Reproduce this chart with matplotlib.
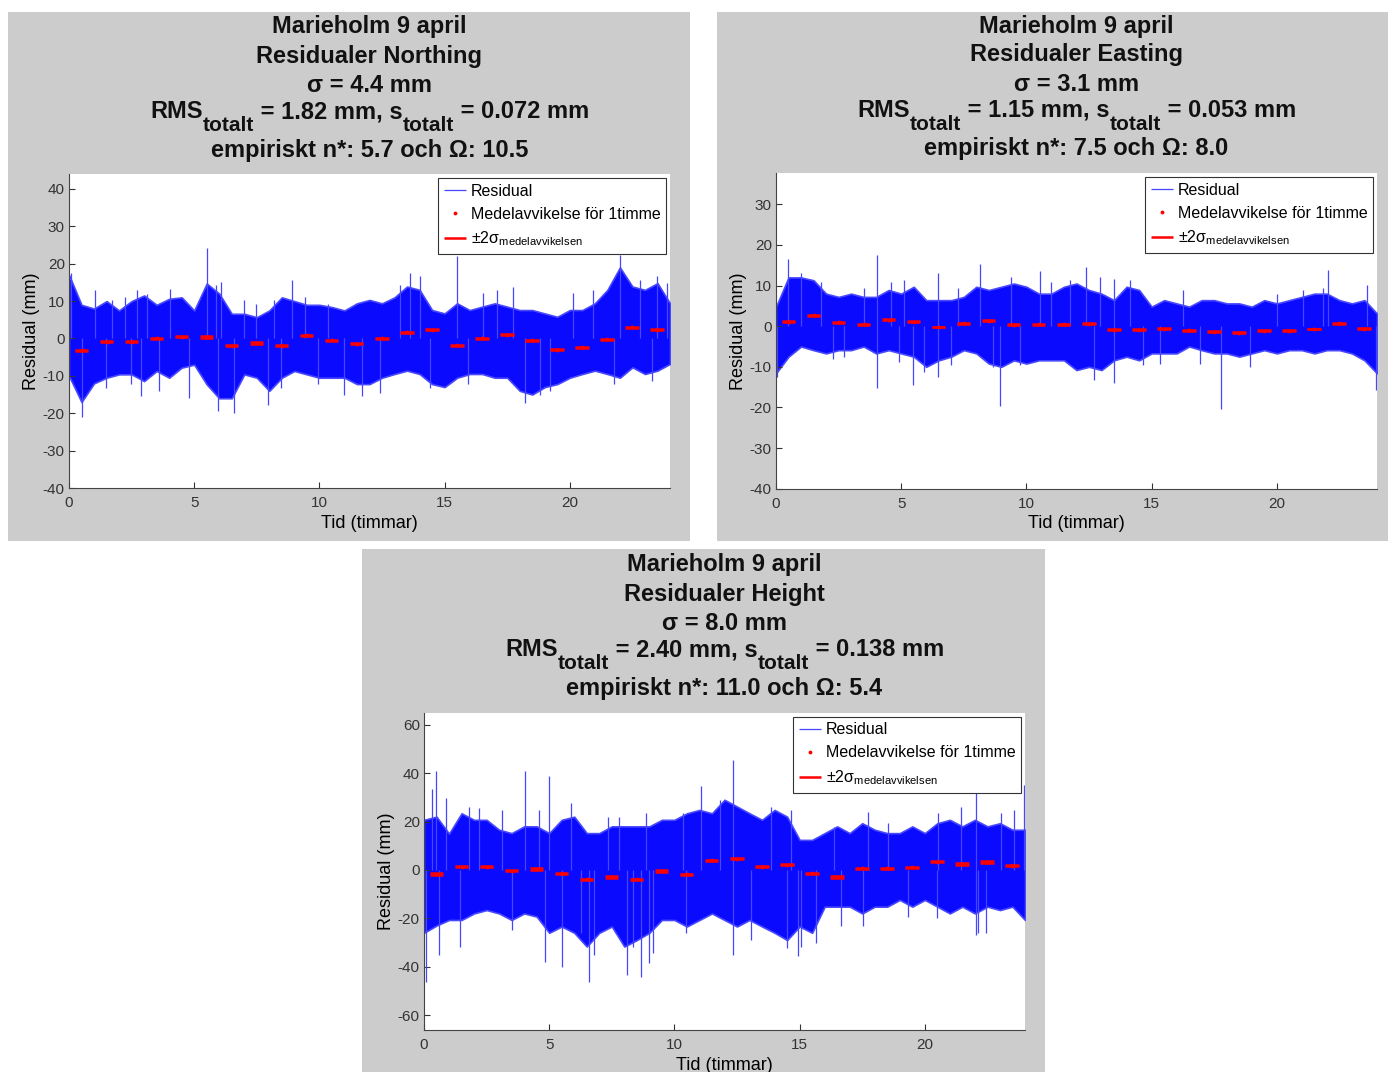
import numpy as np
import matplotlib
matplotlib.use('Agg')
import matplotlib.pyplot as plt
from matplotlib.patches import Rectangle

plt.rcParams['font.family'] = ['Liberation Sans', 'DejaVu Sans']
plt.rcParams['axes.unicode_minus'] = False
plt.rcParams['mathtext.fontset'] = 'custom'
plt.rcParams['mathtext.rm'] = 'Liberation Sans'
plt.rcParams['mathtext.it'] = 'Liberation Sans:italic'
plt.rcParams['mathtext.bf'] = 'Liberation Sans:bold'

# envelope of the residual trace, read every half hour (0, 0.5, ..., 24)
env_t = [i / 2 for i in range(49)]

north_hi = [17, 9, 8, 10, 7.5, 10, 11.5, 9, 10.6, 11, 7.5, 14.7, 12, 6.6, 6.6, 5.7, 7.5,
            11, 10, 9, 9, 8.4, 7.5, 9.4, 10.3, 9.4, 11, 13.9, 13, 7.6, 6.7, 9.4, 7.6, 8.5,
            9.4, 8.5, 7.6, 7.6, 6.7, 5.8, 7.6, 7.6, 9.4, 13, 19, 13.9, 13, 14.8, 9.4]
north_lo = [-10, -17, -12, -10.5, -9.6, -9.6, -11.4, -8.7, -10.5, -7.8, -7, -12.3, -16, -16,
            -9.6, -10.5, -14, -10.5, -8.7, -9.6, -10.5, -10.5, -10.5, -12.2, -12.2, -10.5,
            -9.5, -8.6, -9.5, -12.2, -13, -10.5, -9.5, -9.5, -10.5, -10.5, -14, -15, -13,
            -12.2, -10.5, -9.5, -8.6, -9.5, -10.5, -7.7, -9.5, -8.6, -6.8]
north_spike_t = [0.07, 0.53, 1.03, 1.47, 1.73, 2.23, 2.47, 2.73, 2.87, 3.13, 3.6, 4.04,
                 4.8, 5.5, 5.87, 5.96, 6.07, 6.57, 7.0, 7.47, 7.93, 8.2, 8.47, 8.9, 9.44,
                 9.93, 10.33, 11.0, 11.69, 12.4, 13.22, 13.6, 14.03, 14.42, 15.48, 15.95,
                 16.55, 17.08, 17.74, 18.2, 18.8, 19.2, 20.14, 20.94, 21.76, 22.0, 22.8,
                 23.27, 23.47, 23.87]
north_spike_v = [17.4, -20.9, 12.9, -13.2, 10.2, 11.1, -12.3, 12.9, -15.5, 12, -14.1, 13.3,
                 -16, 24.1, 14.2, -19.5, 15.1, -20, 10.2, 9.3, -17.7, 10.2, -13.2, 15.6,
                 11.1, -12.3, 9.3, -15, -15.4, -14.5, 14.3, 17.5, 16.6, -13.2, 22, -12.3,
                 12.1, 13, 13.9, -17.2, -15, -14.1, 12.1, 13, -12.3, 22.4, 15.7, -11.4,
                 16.6, 14.8]
north_mean = [-3.2, -0.9, -0.9, 0.1, 0.5, 0.4, -2.0, -1.2, -1.9, 0.9, -0.5, -1.4,
              0.1, 1.6, 2.3, -1.8, 0.0, 1.0, -0.5, -3.0, -2.4, -0.2, 3.0, 2.4]

east_hi = [4.8, 12, 12, 11.3, 8, 7.2, 8, 7.2, 7.2, 8.9, 8, 9.7, 6.4, 6.4, 6.4, 7.2, 9.7,
           8.9, 9.7, 10.5, 9.7, 8, 8, 9.7, 10.5, 8.9, 8, 6.4, 9.7, 8.9, 4.8, 6.4, 5.6, 4.8,
           6.4, 6.4, 5.6, 5.6, 4.8, 6.4, 5.6, 6.4, 7.2, 8, 8, 6.4, 5.6, 6.4, 3.1]
east_lo = [-11.6, -7.5, -5, -5.9, -6.7, -5.9, -5.9, -5, -6.7, -5.9, -6.7, -7.5, -10, -8.4,
           -7.5, -5.9, -6.7, -9.2, -10, -8.4, -9.2, -8.4, -8.4, -8.4, -10.8, -10, -10.8,
           -8.4, -7.5, -8.4, -6.7, -6.7, -6.7, -5, -5.9, -6.7, -6.7, -7.5, -6.7, -5.9,
           -6.7, -5.9, -5.9, -6.7, -5.9, -5.9, -6.7, -8.4, -11.6]
east_spike_t = [0.05, 0.47, 1.0, 1.8, 2.27, 2.73, 3.53, 4.04, 4.04, 4.6, 4.93, 5.13, 5.47,
                5.9, 6.47, 6.47, 7.0, 7.27, 8.13, 8.67, 8.93, 9.4, 9.73, 10.53, 11.0, 11.74,
                12.37, 12.68, 12.94, 13.49, 13.5, 14.14, 14.67, 15.34, 16.27, 16.93, 17.77,
                18.93, 19.99, 21.06, 21.86, 22.06, 23.59, 23.96]
east_spike_v = [-12.5, 16.6, 13, 10.9, -8, -7.5, 9.3, 17.6, -15.3, 10.9, -8.8, 11.3, -14.5,
                -11.2, 13.1, -12.5, -9.6, 9.3, 15.2, -10, -19.6, 12.1, -9.6, 13.5, 10.9,
                11.3, 14.6, -13.3, 12.1, -14.1, 11.7, 11.3, -9.6, -9.2, 8.9, -9.2, -20.5,
                -10, 8, 8.9, 9.3, 13.8, 10.1, -15.7]
east_mean = [1.1, 2.7, 1.0, 0.5, 1.6, 1.1, -0.2, 0.7, 1.3, 0.4, 0.5, 0.5,
             0.6, -0.9, -0.9, -0.6, -1.0, -1.4, -1.6, -1.1, -1.1, -0.7, 0.7, -0.6]

height_hi = [20.7, 22, 15, 23.4, 20.7, 20.7, 16.6, 15.2, 18, 18, 15.2, 20.7, 22, 15.2, 15.2,
             18, 18, 18, 18, 20.7, 20.7, 23.4, 24.8, 23.4, 29, 26.2, 23.4, 20.7, 24.8, 22,
             12.4, 12.4, 15.2, 18, 15.2, 19.3, 16.6, 15.2, 15.2, 18, 15.2, 19.3, 20.7, 18,
             20.7, 18, 19.3, 16.6, 16.6]
height_lo = [-26, -23, -20.7, -20.7, -18, -16.6, -18, -20.7, -18, -19.3, -26, -23.4, -26,
             -31.7, -26, -23.4, -31.7, -29, -26, -20.7, -20.7, -23.4, -20.7, -18, -20.7,
             -23.4, -20.7, -23.4, -26, -29, -23.4, -26, -15.2, -15.2, -15.2, -18, -15.2,
             -15.2, -12.4, -15.2, -12.4, -15.2, -18, -15.2, -18, -15.2, -16.6, -15.2, -20.7]
height_spike_t = [0.07, 0.33, 0.49, 0.6, 0.87, 1.44, 1.8, 2.2, 3.13, 3.53, 4.04, 4.6, 4.83,
                  5.0, 5.51, 5.87, 6.27, 6.6, 6.8, 7.33, 7.8, 8.09, 8.33, 8.67, 8.87, 8.97,
                  9.13, 10.33, 10.47, 11.07, 11.84, 12.35, 12.35, 13.04, 13.84, 14.48, 14.64,
                  14.95, 15.04, 15.64, 16.37, 16.64, 17.55, 17.74, 18.51, 19.31, 20.5, 20.51,
                  21.44, 22.04, 22.04, 22.11, 22.44, 23.04, 23.57, 23.95]
height_spike_v = [-46.2, 33.4, 40.7, -35.2, 29.7, -31.7, 26.2, 25.5, 24.8, -24.8, 41.1, 24.8,
                  -37.9, 38.9, -40, 27.6, -26.2, -46.2, -35.2, 22, 22, -43.4, -31.7, -44.1,
                  23.4, -38.6, -34.5, 23.4, -26.2, 34.5, 29, 45.5, -35.2, -29, 26.2, -32.4,
                  24.8, -35.6, -31.7, -30.3, 17.9, -23.4, -23.4, 24.1, 19.3, -19.3, -20,
                  23.4, 26.2, 31.7, -26.9, -26.2, -26.2, 23.4, 24.8, 35.2]
height_mean = [-1.7, 1.4, 1.4, -0.3, 0.4, -1.4, -3.9, -2.9, -3.9, -0.4, -1.9, 4.0,
               4.7, 1.4, 2.2, -1.4, -3.0, 0.6, 0.6, 1.1, 3.4, 2.5, 3.3, 1.7]

panels = [
    dict(name='Northing', sigma='4.4', rms='1.82', s='0.072', n='5.7', omega='10.5',
         hi=north_hi, lo=north_lo, st=north_spike_t, sv=north_spike_v, mean=north_mean,
         ylim=(-40, 44), yticks=range(-40, 41, 10),
         box=(8, 12, 690, 541), ax=(69, 174, 670, 488), title_y=(27, 56, 85, 118, 150)),
    dict(name='Easting', sigma='3.1', rms='1.15', s='0.053', n='7.5', omega='8.0',
         hi=east_hi, lo=east_lo, st=east_spike_t, sv=east_spike_v, mean=east_mean,
         ylim=(-40, 37.7), yticks=range(-40, 31, 10),
         box=(717, 12, 1388, 541), ax=(776, 173, 1377, 488.7), title_y=(26, 55, 84, 117, 149)),
    dict(name='Height', sigma='8.0', rms='2.40', s='0.138', n='11.0', omega='5.4',
         hi=height_hi, lo=height_lo, st=height_spike_t, sv=height_spike_v, mean=height_mean,
         ylim=(-66.2, 65), yticks=range(-60, 61, 20),
         box=(362, 549, 1045, 1072), ax=(424, 712.7, 1025, 1030), title_y=(565, 594, 623, 656, 688)),
]

W, H = 1389, 1072
fig = plt.figure(figsize=(W / 100, H / 100), dpi=100)
fig.patch.set_facecolor('white')
renderer = fig.canvas.get_renderer()


def fx(x):
    return x / W


def fy(y):
    return 1 - y / H


def rms_line(cx, base_y, parts):
    # parts: (text, is_subscript); placed one after another around cx
    arts = []
    for txt, sub in parts:
        t = fig.text(0, 0, txt, fontsize=15 if sub else 17, fontweight='bold',
                     color='#111111', ha='left', va='baseline')
        arts.append((t, sub))
    widths = [t.get_window_extent(renderer).width for t, _ in arts]
    x = cx - sum(widths) / 2
    for (t, sub), w in zip(arts, widths):
        t.set_position((fx(x), fy(base_y + (13 if sub else 0))))
        x += w


hours = np.arange(24)
for p in panels:
    x0, y0, x1, y1 = p['box']
    fig.patches.append(Rectangle((fx(x0), fy(y1)), fx(x1 - x0), (y1 - y0) / H,
                                 transform=fig.transFigure, facecolor='#cccccc',
                                 edgecolor='none', zorder=-5))
    a0, b0, a1, b1 = p['ax']
    ax = fig.add_axes([fx(a0), fy(b1), fx(a1 - a0), (b1 - b0) / H])

    ax.fill_between(env_t, p['lo'], p['hi'], color='#0a0aff', lw=1.2, edgecolor='#4848ff')
    ax.vlines(p['st'], 0, p['sv'], color='#4646ff', lw=0.9, label='Residual')

    mean = np.array(p['mean'])
    two_s = 2 * float(p['s'])
    ax.plot(hours + 0.5, mean, '.', color='red', ms=3.5, zorder=4,
            label='Medelavvikelse för 1timme')
    ax.hlines(mean + two_s, hours + 0.22, hours + 0.76, color='red', lw=1.8, zorder=3,
              label='±2σ$_{\\mathrm{medelavvikelsen}}$')
    ax.hlines(mean - two_s, hours + 0.22, hours + 0.76, color='red', lw=1.8, zorder=3)

    ax.set_xlim(0, 24)
    ax.set_ylim(*p['ylim'])
    ax.set_xticks([0, 5, 10, 15, 20])
    ax.set_yticks(list(p['yticks']))
    ax.tick_params(direction='in', length=4, labelsize=11, colors='#333333', pad=3)
    ax.tick_params(axis='x', pad=6)
    for side in ['top', 'right']:
        ax.spines[side].set_visible(False)
    for side in ['left', 'bottom']:
        ax.spines[side].set_color('#444444')
        ax.spines[side].set_linewidth(0.8)
    ax.set_xlabel('Tid (timmar)', fontsize=13, labelpad=3)
    ax.set_ylabel('Residual (mm)', fontsize=13, labelpad=2)

    leg = ax.legend(loc='upper right', fontsize=11.5, handlelength=1.4, handletextpad=0.3,
                    borderpad=0.35, labelspacing=0.5, borderaxespad=0.25, fancybox=False,
                    framealpha=1, edgecolor='#333333')
    leg.get_frame().set_linewidth(0.8)

    cx = (a0 + a1) / 2
    ty = p['title_y']
    lines = ['Marieholm 9 april',
             'Residualer ' + p['name'],
             'σ = ' + p['sigma'] + ' mm',
             None,
             'empiriskt n*: ' + p['n'] + ' och Ω: ' + p['omega']]
    for txt, yy in zip(lines, ty):
        if txt is None:
            continue
        fig.text(fx(cx), fy(yy), txt, ha='center', va='center', fontsize=17,
                 fontweight='bold', color='#111111')
    rms_line(cx, ty[3], [('RMS', False), ('totalt', True),
                         (' = ' + p['rms'] + ' mm, s', False), ('totalt', True),
                         (' = ' + p['s'] + ' mm', False)])

fig.savefig('out.png', dpi=100)
